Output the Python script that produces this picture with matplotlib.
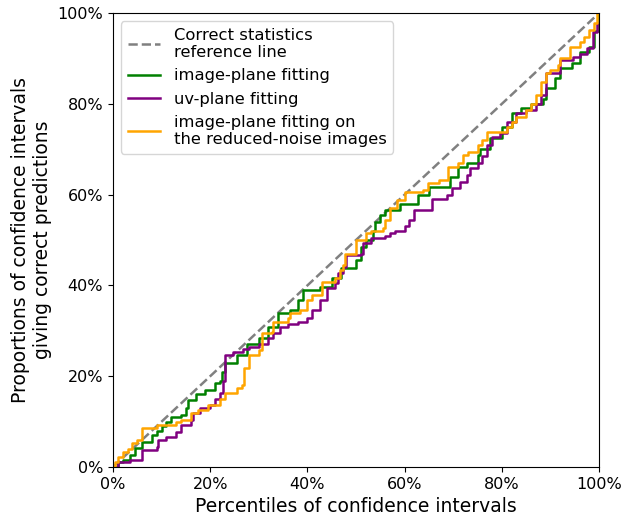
import matplotlib
matplotlib.use("Agg")
import matplotlib.pyplot as plt
from matplotlib.ticker import PercentFormatter

# percentile (x) and proportion (y) step points, in percent
image_x = [0, 1, 2, 3.5, 4.5, 6, 8, 9, 10, 11, 12, 14, 15, 15.5, 17, 19, 21, 22, 22.5, 23,
           25.5, 27.5, 30, 32, 34, 36.4, 38, 39, 42.6, 45, 47, 50, 51, 52, 53.5, 54, 55, 56,
           59, 62.8, 65, 69.3, 71, 72.8, 75, 75.5, 77.6, 80, 82, 84, 86, 88.5, 89, 91, 92,
           94.4, 96, 98, 99, 100]
image_y = [0, 1, 1.5, 2.6, 4.2, 5.5, 7, 8, 9, 10, 11, 11.5, 13, 14.7, 16, 17, 18.5, 19, 21, 23,
           24.7, 27, 28.4, 30.8, 34, 34.6, 36.8, 39, 39.7, 41.6, 43.8, 45.6, 48.5, 50, 52, 54, 55.5, 56.6,
           58, 60, 61.7, 63.9, 66, 67, 68.7, 70, 72.5, 75, 78, 79, 80, 81, 83.5, 85.7, 88,
           89, 91.4, 92.5, 96, 100]

uv_x = [0, 1, 3.5, 6, 9, 9.3, 11, 13, 14, 16, 16.5, 18, 20, 21, 22, 22.6, 23, 24.7, 26.7, 28,
        30, 32, 33, 34.4, 36, 38, 40, 41, 42.6, 44, 45.7, 46.3, 47.3, 48, 51, 51.4, 53, 56, 57,
        58, 60, 61, 62, 65.6, 68.7, 69.8, 71.4, 72.8, 73.5, 75, 76, 77, 78, 79.6, 81, 83, 85,
        87, 88, 89, 92, 94.6, 96, 97.5, 98.8, 99.5, 100]
uv_y = [0, 1, 1.5, 3.7, 4.4, 6, 6.6, 7.7, 9.2, 10.4, 11.9, 13, 13.7, 15, 16.3, 19, 24.7, 25.3, 26, 26.5,
        27, 28.4, 29.5, 30.8, 31.5, 32, 32.8, 34.6, 36.8, 39.4, 40.5, 42.7, 44, 46.7, 47, 49.3, 50.4, 51, 51.5,
        52, 53, 54.4, 56.6, 59, 60, 61.5, 62.8, 64.3, 65.9, 67, 68.5, 71, 72.7, 73.6, 76, 78, 78.6,
        80, 82, 86.8, 89.6, 90.3, 91, 92.3, 95.8, 97.8, 97.8]

reduced_x = [0, 0.5, 1, 2, 3, 4, 5, 6, 9, 12.3, 13, 14, 16, 17.5, 19.5, 22, 23, 25.5, 26.5, 27,
             28, 30, 30.6, 32.7, 33, 36, 36.4, 38.5, 40, 41, 43, 45.7, 46.7, 47.3, 47.7, 50, 52,
             53, 55.5, 56, 57, 58.4, 60, 63.8, 64.8, 67, 69, 71, 72, 73, 75, 76, 77, 81, 82, 83,
             85, 86, 87, 88, 89, 90, 91.6, 92, 94, 96, 97, 98, 99, 99.5, 100]
reduced_y = [0, 1, 2.2, 3.3, 4, 5.3, 6, 8.6, 9.2, 9.2, 10, 10.4, 11.9, 12.6, 13.7, 15, 16.3, 17.4, 18, 21.8,
             24.7, 25.8, 29.5, 29.7, 32, 32.8, 34, 34.6, 36.8, 37.9, 40.7, 41.6, 43.4, 44.5, 47, 50, 51.5,
             52, 52.6, 54.4, 57, 58.8, 60.6, 61, 62.5, 63.2, 66, 67, 68.7, 69.4, 71, 72, 73.8, 74.9, 76, 77,
             78.6, 80, 82, 84.8, 86.8, 87.4, 88.5, 90, 92.5, 93.6, 94.7, 96.3, 97.8, 100, 100]

fig = plt.figure(figsize=(6.24, 5.23), dpi=100)
ax = fig.add_axes([0.181, 0.107, 0.779, 0.868])

ax.plot([0, 100], [0, 100], '--', color='gray', linewidth=1.8,
        label='Correct statistics\nreference line')
ax.plot(image_x, image_y, color='green', linewidth=1.8, drawstyle='steps-post',
        label='image-plane fitting')
ax.plot(uv_x, uv_y, color='purple', linewidth=1.8, drawstyle='steps-post',
        label='uv-plane fitting')
ax.plot(reduced_x, reduced_y, color='orange', linewidth=1.8, drawstyle='steps-post',
        label='image-plane fitting on\nthe reduced-noise images')

ax.set_xlim(0, 100)
ax.set_ylim(0, 100)
ax.xaxis.set_major_formatter(PercentFormatter(decimals=0))
ax.yaxis.set_major_formatter(PercentFormatter(decimals=0))
ax.tick_params(labelsize=11.5)
ax.set_xlabel('Percentiles of confidence intervals', fontsize=13.5)
ax.set_ylabel('Proportions of confidence intervals\ngiving correct predictions', fontsize=13.5)
ax.legend(loc='upper left', fontsize=11.8)

fig.savefig('out.png', dpi=100)
